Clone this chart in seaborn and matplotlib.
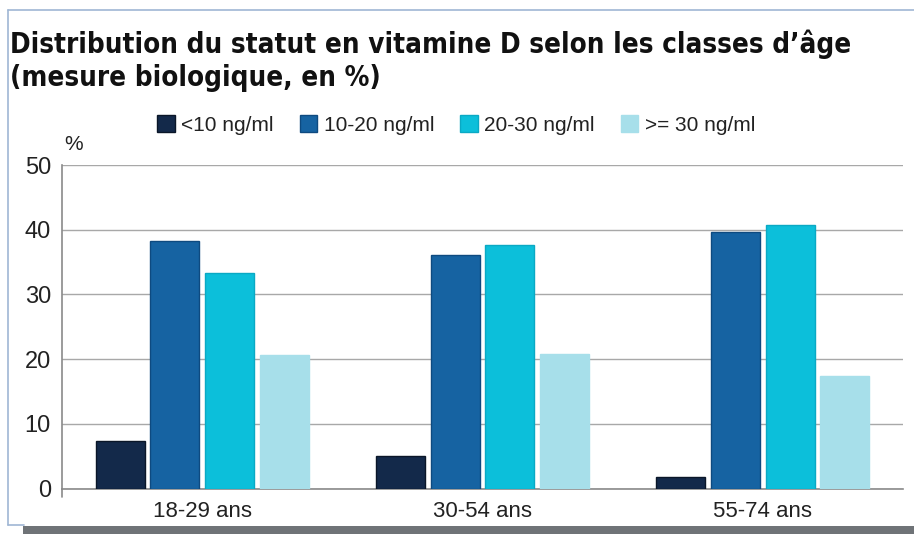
import numpy as np
import pandas as pd
import matplotlib
matplotlib.use("Agg")
import matplotlib.pyplot as plt
import seaborn as sns
from matplotlib import font_manager
from matplotlib.font_manager import FontProperties
from matplotlib.lines import Line2D
from matplotlib.patches import Rectangle

# --- data -------------------------------------------------------------
age_classes = ["18-29 ans", "30-54 ans", "55-74 ans"]
status_levels = ["<10 ng/ml", "10-20 ng/ml", "20-30 ng/ml", ">= 30 ng/ml"]
below_10 = [7.4, 5.0, 1.8]
from_10_to_20 = [38.3, 36.1, 39.7]
from_20_to_30 = [33.3, 37.7, 40.7]
from_30 = [20.7, 20.8, 17.4]
y_ticks = [0, 10, 20, 30, 40, 50]
title_lines = ["Distribution du statut en vitamine D selon les classes d\u2019\u00e2ge",
               "(mesure biologique, en %)"]
unit_label = "%"

series = [below_10, from_10_to_20, from_20_to_30, from_30]
df = pd.DataFrame({
    "age": np.repeat([age_classes], len(status_levels), axis=0).ravel(),
    "status": np.repeat(status_levels, len(age_classes)),
    "value": np.concatenate(series),
})

colors = ["#13294a", "#1663a2", "#0cbfda", "#a7dfea"]
edges = ["#0a1628", "#0e4a80", "#0aa9c4", "#a7dfea"]

# --- fonts --------------------------------------------------------------
sns.set_theme(style="white")
available = {f.name for f in font_manager.fontManager.ttflist}
body_font = "Liberation Sans Narrow" if "Liberation Sans Narrow" in available else "Liberation Sans"
plt.rcParams["font.family"] = [body_font, "DejaVu Sans"]

# a condensed bold face for the heading, when one is installed
title_props = FontProperties(family=["Liberation Sans", "DejaVu Sans"], weight="bold")
for fam, stretch in [("Liberation Sans Narrow", "normal"), ("DejaVu Sans", "condensed")]:
    fp = FontProperties(family=fam, weight="bold", stretch=stretch)
    try:
        path = font_manager.findfont(fp, fallback_to_default=False)
    except Exception:
        continue
    if "Narrow" in path or "Condensed" in path:
        title_props = FontProperties(fname=path)
        break

W, H = 914, 534
fig = plt.figure(figsize=(W / 100, H / 100), dpi=100)
fig.patch.set_facecolor("white")


def fx(px):
    return px / W


def fy(py):
    return 1 - py / H


ax = fig.add_axes([fx(62), fy(488.5), fx(903) - fx(62), fy(165) - fy(488.5)])

sns.barplot(data=df, x="age", y="value", hue="status", order=age_classes,
            hue_order=status_levels, palette=colors, saturation=1,
            width=0.78, gap=0.1, ax=ax, zorder=3)

for cont, ec in zip(ax.containers, edges):
    for bar in cont:
        bar.set_edgecolor(ec)
        bar.set_linewidth(1.0)

ax.set_xlim(-0.5, len(age_classes) - 0.5)
ax.set_ylim(0, 50)
ax.set_yticks(y_ticks)
ax.set_xlabel("")
ax.set_ylabel("")

# horizontal grid
ax.yaxis.grid(True, color="#a8a8a8", linewidth=1.0, zorder=0)
ax.xaxis.grid(False)
ax.set_axisbelow(True)

for s in ["top", "right"]:
    ax.spines[s].set_visible(False)
for s in ["left", "bottom"]:
    ax.spines[s].set_color("#8a8a8a")
    ax.spines[s].set_linewidth(1.2)

ax.tick_params(axis="y", length=0, pad=8, labelsize=17, labelcolor="#222222")
ax.tick_params(axis="x", which="major", length=0, pad=9, labelsize=16, labelcolor="#222222")
ax.set_xticks(np.arange(-0.5, len(age_classes)), minor=True)
ax.tick_params(axis="x", which="minor", length=9, width=1.2, color="#8a8a8a")

# left spine runs a little below zero
ax.add_line(Line2D([0, 0], [0, -0.025], transform=ax.transAxes, color="#8a8a8a",
                   linewidth=1.2, clip_on=False))

fig.text(fx(64), fy(145), unit_label, fontsize=15, color="#222222",
         ha="left", va="center")

# legend
ax.legend_.remove()
handles = [Rectangle((0, 0), 1, 1, facecolor=c, edgecolor=e, linewidth=1.0)
           for c, e in zip(colors, edges)]
fig.legend(handles, status_levels, loc="center", bbox_to_anchor=(fx(456), fy(125)),
           ncol=4, frameon=False, fontsize=15, handlelength=0.85, handleheight=0.85,
           handletextpad=0.3, columnspacing=1.25, labelcolor="#222222")

# heading, sized to the width of its first line
t1 = fig.text(fx(10), fy(53), title_lines[0], fontproperties=title_props,
              color="#111111", ha="left", va="baseline")
t2 = fig.text(fx(10), fy(86), title_lines[1], fontproperties=title_props,
              color="#111111", ha="left", va="baseline")
t1.set_fontsize(24)
renderer = fig.canvas.get_renderer()
w = t1.get_window_extent(renderer).width
size = min(25.0, 24 * 838 / w)
t1.set_fontsize(size)
t2.set_fontsize(size)

# frame around the chart with a shadow at the bottom
frame_c = "#9fb6d4"
fig.add_artist(Line2D([fx(8), fx(914)], [fy(10), fy(10)], color=frame_c, linewidth=1.2))
fig.add_artist(Line2D([fx(8), fx(8)], [fy(10), fy(525)], color=frame_c, linewidth=1.2))
fig.add_artist(Line2D([fx(8), fx(24)], [fy(525), fy(525)], color=frame_c, linewidth=1.2))
fig.add_artist(Rectangle((fx(23), fy(534)), fx(914) - fx(23), fy(526) - fy(534),
                         facecolor="#6f7377", edgecolor="none"))

fig.savefig("out.png", dpi=100)
